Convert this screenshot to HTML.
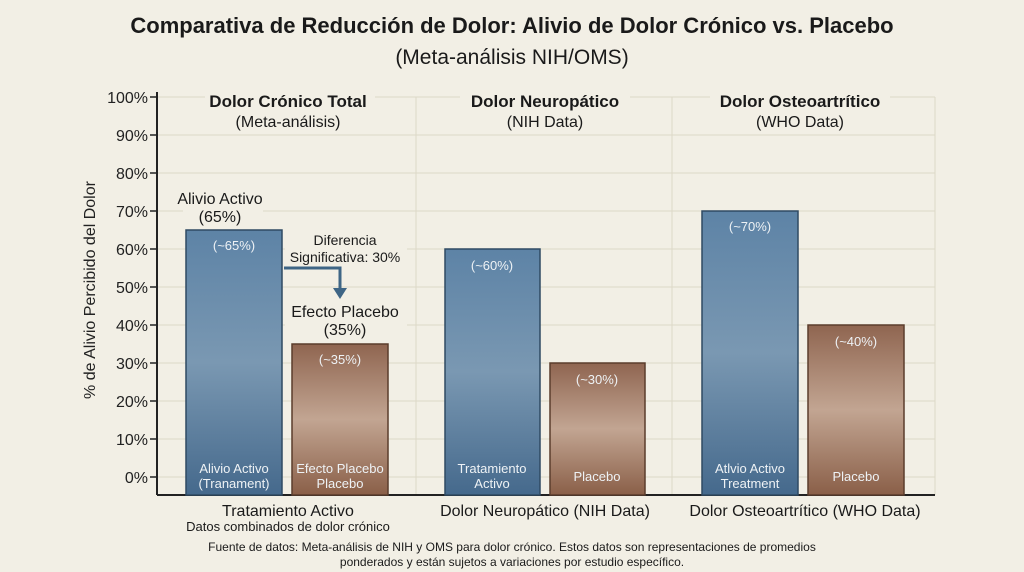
<!DOCTYPE html>
<html><head><meta charset="utf-8"><style>
body{margin:0;background:#f2efe5;}
svg{display:block;font-family:"Liberation Sans",sans-serif;}
</style></head><body>
<svg width="1024" height="572" viewBox="0 0 1024 572">
<defs>
<linearGradient id="bl" x1="0" y1="0" x2="0" y2="1"><stop offset="0" stop-color="#5d83a6"/><stop offset="0.5" stop-color="#7a98b2"/><stop offset="1" stop-color="#45698c"/></linearGradient>
<linearGradient id="br" x1="0" y1="0" x2="0" y2="1"><stop offset="0" stop-color="#8f6550"/><stop offset="0.5" stop-color="#c2a592"/><stop offset="1" stop-color="#8a5f48"/></linearGradient>
</defs>
<rect width="1024" height="572" fill="#f2efe5"/>
<text x="512" y="33" text-anchor="middle" font-size="22" font-weight="bold" fill="#1a1a1a">Comparativa de Reducción de Dolor: Alivio de Dolor Crónico vs. Placebo</text>
<text x="512" y="64" text-anchor="middle" font-size="21" fill="#1a1a1a">(Meta-análisis NIH/OMS)</text>
<g stroke="#dcd8c8" stroke-width="1">
<line x1="157" y1="97" x2="935" y2="97"/><line x1="157" y1="135" x2="935" y2="135"/><line x1="157" y1="173" x2="935" y2="173"/><line x1="157" y1="211" x2="935" y2="211"/><line x1="157" y1="249" x2="935" y2="249"/><line x1="157" y1="287" x2="935" y2="287"/><line x1="157" y1="325" x2="935" y2="325"/><line x1="157" y1="363" x2="935" y2="363"/><line x1="157" y1="401" x2="935" y2="401"/><line x1="157" y1="439" x2="935" y2="439"/><line x1="157" y1="477" x2="935" y2="477"/>
<line x1="416" y1="97" x2="416" y2="495"/><line x1="672" y1="97" x2="672" y2="495"/><line x1="935" y1="97" x2="935" y2="495"/>
</g>
<g fill="#f2efe5"><rect x="205" y="88" width="170" height="40"/><rect x="460" y="88" width="170" height="40"/><rect x="710" y="88" width="180" height="40"/><rect x="183" y="183" width="80" height="44"/><rect x="285" y="230" width="122" height="38"/><rect x="285" y="298" width="122" height="40"/></g>
<line x1="157" y1="92" x2="157" y2="495" stroke="#222" stroke-width="2"/>
<line x1="157" y1="495" x2="935" y2="495" stroke="#222" stroke-width="2"/>
<g font-size="16" fill="#222" text-anchor="end">
<text x="148" y="103">100%</text><text x="148" y="141">90%</text><text x="148" y="179">80%</text><text x="148" y="217">70%</text><text x="148" y="255">60%</text><text x="148" y="293">50%</text><text x="148" y="331">40%</text><text x="148" y="369">30%</text><text x="148" y="407">20%</text><text x="148" y="445">10%</text><text x="148" y="483">0%</text>
</g>
<g stroke="#222" stroke-width="1.5"><line x1="150" y1="97" x2="157" y2="97"/><line x1="150" y1="135" x2="157" y2="135"/><line x1="150" y1="173" x2="157" y2="173"/><line x1="150" y1="211" x2="157" y2="211"/><line x1="150" y1="249" x2="157" y2="249"/><line x1="150" y1="287" x2="157" y2="287"/><line x1="150" y1="325" x2="157" y2="325"/><line x1="150" y1="363" x2="157" y2="363"/><line x1="150" y1="401" x2="157" y2="401"/><line x1="150" y1="439" x2="157" y2="439"/><line x1="150" y1="477" x2="157" y2="477"/></g>
<text transform="translate(95,290) rotate(-90)" text-anchor="middle" font-size="16" fill="#222">% de Alivio Percibido del Dolor</text>
<g text-anchor="middle" fill="#1a1a1a">
<text x="288" y="107" font-size="17" font-weight="bold">Dolor Crónico Total</text><text x="288" y="127" font-size="16">(Meta-análisis)</text>
<text x="545" y="107" font-size="17" font-weight="bold">Dolor Neuropático</text><text x="545" y="127" font-size="16">(NIH Data)</text>
<text x="800" y="107" font-size="17" font-weight="bold">Dolor Osteoartrítico</text><text x="800" y="127" font-size="16">(WHO Data)</text>
<text x="220" y="204" font-size="16">Alivio Activo</text><text x="220" y="222" font-size="16">(65%)</text>
<text x="345" y="245" font-size="14">Diferencia</text><text x="345" y="262" font-size="14">Significativa: 30%</text>
<text x="345" y="317" font-size="16">Efecto Placebo</text><text x="345" y="335" font-size="16">(35%)</text>
</g>
<path d="M284 268 H340 V290" fill="none" stroke="#3e6585" stroke-width="3"/>
<path d="M333 288 L347 288 L340 299 Z" fill="#3e6585"/>
<g stroke="#2f4a63" stroke-width="1.5">
<rect x="186" y="230" width="96" height="265" fill="url(#bl)"/>
<rect x="445" y="249" width="95" height="246" fill="url(#bl)"/>
<rect x="702" y="211" width="96" height="284" fill="url(#bl)"/>
</g>
<g stroke="#5b3d2c" stroke-width="1.5">
<rect x="292" y="344" width="96" height="151" fill="url(#br)"/>
<rect x="550" y="363" width="95" height="132" fill="url(#br)"/>
<rect x="808" y="325" width="96" height="170" fill="url(#br)"/>
</g>
<g text-anchor="middle" fill="#eef2f5" font-size="13">
<text x="234" y="250">(~65%)</text><text x="492" y="270">(~60%)</text><text x="750" y="231">(~70%)</text>
<text x="340" y="364">(~35%)</text><text x="597" y="384">(~30%)</text><text x="856" y="346">(~40%)</text>
<text x="234" y="473">Alivio Activo</text><text x="234" y="488">(Tranament)</text>
<text x="340" y="473">Efecto Placebo</text><text x="340" y="488">Placebo</text>
<text x="492" y="473">Tratamiento</text><text x="492" y="488">Activo</text>
<text x="597" y="481">Placebo</text>
<text x="750" y="473">Atlvio Activo</text><text x="750" y="488">Treatment</text>
<text x="856" y="481">Placebo</text>
</g>
<g text-anchor="middle" fill="#1a1a1a">
<text x="288" y="516" font-size="16">Tratamiento Activo</text>
<text x="288" y="531" font-size="13">Datos combinados de dolor crónico</text>
<text x="545" y="516" font-size="16">Dolor Neuropático (NIH Data)</text>
<text x="805" y="516" font-size="16">Dolor Osteoartrítico (WHO Data)</text>
<text x="512" y="551" font-size="12">Fuente de datos: Meta-análisis de NIH y OMS para dolor crónico. Estos datos son representaciones de promedios</text>
<text x="512" y="566" font-size="12">ponderados y están sujetos a variaciones por estudio específico.</text>
</g>
</svg>
</body></html>
